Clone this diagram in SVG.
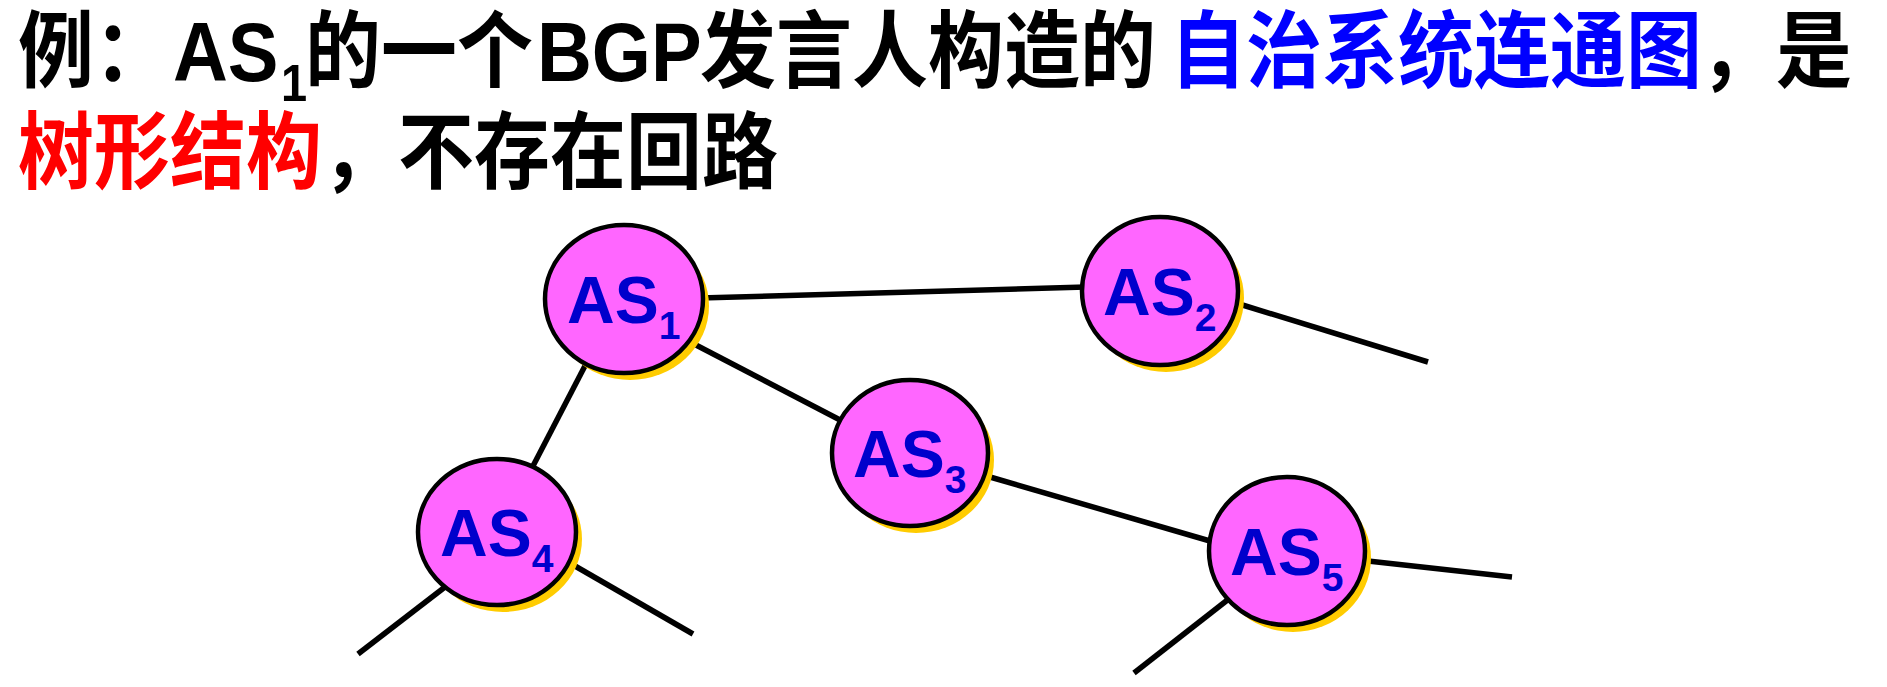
<svg xmlns="http://www.w3.org/2000/svg" width="1887" height="687" viewBox="0 0 1887 687">
<style>
.t{font-family:"Liberation Sans","Noto Sans CJK SC",sans-serif;font-weight:bold;font-size:76px}
.k{fill:#000}
.b{fill:#0000FF}
.r{fill:#FF0000}
.sub{font-size:47px}
.edge{stroke:#000;stroke-width:5.5;fill:none}
.shadow{fill:#FFCC00}
.node{fill:#FF66FF;stroke:#000;stroke-width:4.5}
.lbl{font-family:"Liberation Sans",Arial,sans-serif;font-weight:bold;font-size:66px;fill:#0000CC}
.ls{font-size:39px}
</style>
<rect width="1887" height="687" fill="#fff"/>
<g id="title">
<text class="t k" y="81" transform="matrix(1 0 0 1.1 0 -8.1)"><tspan x="18">例：</tspan><tspan x="173">AS</tspan><tspan x="281" y="99" class="sub">1</tspan><tspan x="305" y="81">的一个</tspan><tspan x="537">BGP</tspan><tspan x="700">发言人构造的</tspan><tspan x="1170" class="b">自治系统连通图</tspan><tspan x="1700">，是</tspan></text>
<text class="t" y="182" transform="matrix(1 0 0 1.1 0 -18.2)"><tspan x="18" class="r">树形结构</tspan><tspan x="322" class="k">，不存在回路</tspan></text>
</g>
<g id="connectors">
<line class="edge" x1="700" y1="298" x2="1086" y2="287"/>
<line class="edge" x1="1236" y1="303" x2="1428" y2="362"/>
<line class="edge" x1="694" y1="344" x2="842" y2="421"/>
<line class="edge" x1="587" y1="362" x2="533" y2="466"/>
<line class="edge" x1="990" y1="477" x2="1210" y2="541"/>
<line class="edge" x1="445" y1="587" x2="358" y2="654"/>
<line class="edge" x1="575" y1="566" x2="693" y2="634"/>
<line class="edge" x1="1230" y1="598" x2="1134" y2="673"/>
<line class="edge" x1="1368" y1="561" x2="1512" y2="577"/>
</g>
<g id="AS1">
<ellipse class="shadow" cx="630" cy="306" rx="79" ry="74"/>
<ellipse class="node" cx="624" cy="299" rx="79" ry="74"/>
<text class="lbl" x="567" y="323">AS<tspan class="ls" dy="16">1</tspan></text>
</g>
<g id="AS2">
<ellipse class="shadow" cx="1166" cy="298" rx="78" ry="74"/>
<ellipse class="node" cx="1160" cy="291" rx="78" ry="74"/>
<text class="lbl" x="1103" y="315">AS<tspan class="ls" dy="16">2</tspan></text>
</g>
<g id="AS3">
<ellipse class="shadow" cx="916" cy="460" rx="78" ry="73"/>
<ellipse class="node" cx="910" cy="453" rx="78" ry="73"/>
<text class="lbl" x="853" y="477">AS<tspan class="ls" dy="16">3</tspan></text>
</g>
<g id="AS4">
<ellipse class="shadow" cx="503" cy="539" rx="79" ry="73"/>
<ellipse class="node" cx="497" cy="532" rx="79" ry="73"/>
<text class="lbl" x="440" y="556">AS<tspan class="ls" dy="16">4</tspan></text>
</g>
<g id="AS5">
<ellipse class="shadow" cx="1293" cy="558" rx="78" ry="74"/>
<ellipse class="node" cx="1287" cy="551" rx="78" ry="74"/>
<text class="lbl" x="1230" y="575">AS<tspan class="ls" dy="16">5</tspan></text>
</g>
</svg>
